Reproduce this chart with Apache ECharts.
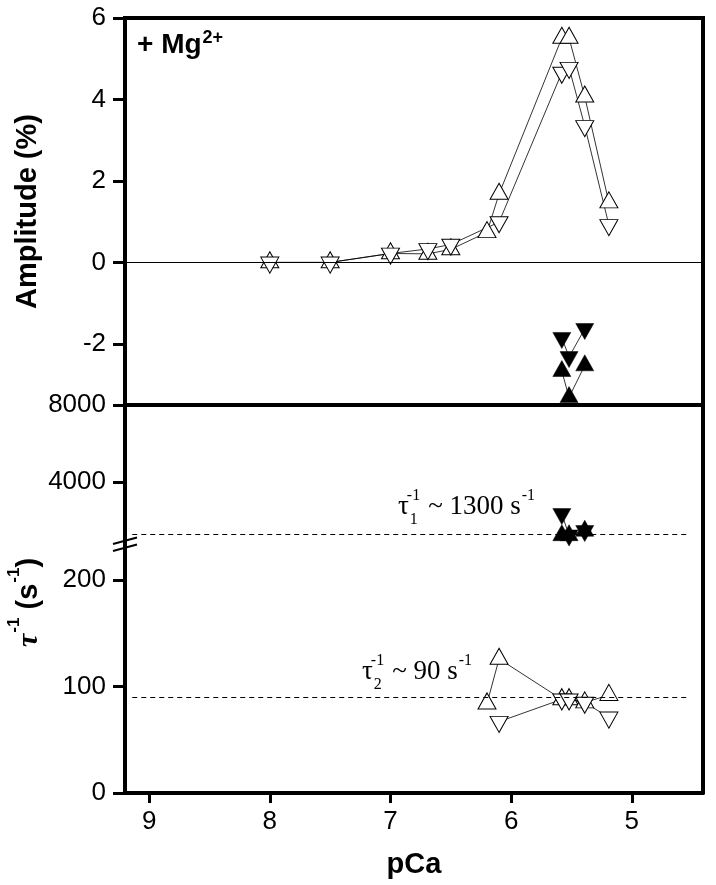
<!DOCTYPE html>
<html><head><meta charset="utf-8">
<script src="https://cdn.jsdelivr.net/npm/echarts@6/dist/echarts.min.js"></script>
<style>html,body{margin:0;padding:0;background:#fff}#c{width:716px;height:885px}</style>
</head><body><div id="c"></div>
<script>
// ---- data ----
const pCaUp = [8.0, 7.5, 7.0, 6.69, 6.5, 6.2, 6.1, 5.58, 5.52, 5.39, 5.19];
const ampUp = [0, 0, 0.22, 0.21, 0.32, 0.74, 1.68, 5.51, 5.51, 4.07, 1.47];
const pCaDown = [8.0, 7.5, 7.0, 6.69, 6.5, 6.1, 5.58, 5.52, 5.39, 5.19];
const ampDown = [0, 0, 0.22, 0.33, 0.44, 0.99, 4.66, 4.78, 3.35, 0.92];
const pCaFast = [5.58, 5.52, 5.39];
const ampFastUp = [-2.67, -3.31, -2.53];
const ampFastDown = [-1.85, -2.32, -1.63];
const rate1Up = [1250, 1250, 1480];
const rate1Down = [2360, 1250, 1480];
const pCaSlowUp = [6.2, 6.1, 5.58, 5.52, 5.39, 5.19];
const rate2Up = [84, 126, 88, 88, 85, 92];
const pCaSlowDown = [6.1, 5.58, 5.52, 5.39, 5.19];
const rate2Down = [67, 88, 88, 85, 71];
const tau1Level = 1300;
const tau2Level = 90;
const xTicks = [5, 6, 7, 8, 9];
const ampTicks = [-2, 0, 2, 4, 6];
const rate1Ticks = [4000, 8000];
const rate2Ticks = [0, 100, 200];

const zip = (xs, ys) => xs.map((x, i) => [x, ys[i]]);
const SYM = [18, 16];
const OFF = SYM[1] / 6;
const SANS = 'Liberation Sans';
const SERIF = 'Liberation Serif';

function series(data, up, filled, gi) {
  return {
    type: 'line', xAxisIndex: gi, yAxisIndex: gi, data: data,
    symbol: 'triangle', symbolSize: SYM,
    symbolRotate: up ? 0 : 180,
    symbolOffset: [0, up ? -OFF : OFF],
    showAllSymbol: true, animation: false, z: 3,
    lineStyle: { color: '#000', width: 0.8 },
    itemStyle: { color: filled ? '#000' : '#fff', borderColor: '#000', borderWidth: filled ? 0.5 : 1 }
  };
}

const s = [
  series(zip(pCaUp, ampUp), true, false, 0),
  series(zip(pCaDown, ampDown), false, false, 0),
  series(zip(pCaFast, ampFastUp), true, true, 0),
  series(zip(pCaFast, ampFastDown), false, true, 0),
  series(zip(pCaFast, rate1Up), true, true, 1),
  series(zip(pCaFast, rate1Down), false, true, 1),
  series(zip(pCaSlowUp, rate2Up), true, false, 2),
  series(zip(pCaSlowDown, rate2Down), false, false, 2)
];
s[0].markLine = { silent: true, symbol: 'none', label: { show: false }, animation: false,
  lineStyle: { color: '#000', width: 1, type: 'solid' }, data: [{ yAxis: 0 }] };
s[4].markLine = { silent: true, symbol: 'none', label: { show: false }, animation: false,
  lineStyle: { color: '#000', width: 1, type: [5, 4] },
  data: [[{ coord: [9.14, tau1Level] }, { coord: [4.52, tau1Level] }]] };
s[6].markLine = { silent: true, symbol: 'none', label: { show: false }, animation: false,
  lineStyle: { color: '#000', width: 1, type: [5, 4] },
  data: [[{ coord: [9.14, tau2Level] }, { coord: [4.52, tau2Level] }]] };

const XMIN = 4.41, XMAX = 9.2;
const plain = v => String(v);
function xAxis(gi, show) {
  return {
    gridIndex: gi, type: 'value', min: XMIN, max: XMAX, inverse: true, show: show,
    splitLine: { show: false },
    axisLine: { show: true, onZero: false, lineStyle: { color: '#000', width: 4 } },
    axisTick: { show: true, customValues: xTicks, length: 10, lineStyle: { color: '#000', width: 3 } },
    axisLabel: { customValues: xTicks, formatter: plain, color: '#000', fontSize: 26, fontFamily: SANS, margin: 16 },
    name: show ? 'pCa' : '', nameLocation: 'middle', nameGap: 57,
    nameTextStyle: { color: '#000', fontSize: 29, fontWeight: 'bold', fontFamily: SANS }
  };
}
function yAxis(gi, min, max, ticks, name) {
  return {
    gridIndex: gi, type: 'value', min: min, max: max,
    splitLine: { show: false },
    axisLine: { show: true, onZero: false, lineStyle: { color: '#000', width: 4 } },
    axisTick: { show: true, customValues: ticks, length: 12, lineStyle: { color: '#000', width: 3 } },
    axisLabel: { customValues: ticks, formatter: plain, color: '#000', fontSize: 26, fontFamily: SANS, margin: 19 },
    name: name || '', nameLocation: 'middle', nameGap: 83,
    nameTextStyle: { color: '#000', fontSize: 29, fontWeight: 'bold', fontFamily: SANS }
  };
}
function rightAxis(gi) {
  return {
    gridIndex: gi, type: 'value', position: 'right', min: 0, max: 1,
    splitLine: { show: false }, axisTick: { show: false }, axisLabel: { show: false },
    axisLine: { show: true, onZero: false, lineStyle: { color: '#000', width: 4 } }
  };
}

// text measurement for composed labels
const ctx = document.createElement('canvas').getContext('2d');
function tw(font, t) { ctx.font = font; return ctx.measureText(t).width; }
function txt(x, y, t, font) {
  return { type: 'text', x: x, y: y, silent: true,
    style: { text: t, font: font, fill: '#000', verticalAlign: 'middle', align: 'left' } };
}

// + Mg2+
const fMg = 'bold 28px "' + SANS + '"';
const fMgS = 'bold 18px "' + SANS + '"';
const mgW = tw(fMg, '+ Mg');
const mgEls = [txt(137, 45, '+ Mg', fMg), txt(137 + mgW + 1, 38, '2+', fMgS)];

// rotated tau axis label
const fT = 'italic bold 30px "' + SERIF + '"';
const fB = 'bold 29px "' + SANS + '"';
const fBS = 'bold 17px "' + SANS + '"';
let lx = 0;
const tauEls = [];
tauEls.push(txt(lx, -9, 'τ', fT)); lx += tw(fT, 'τ') + 1;
tauEls.push(txt(lx, -24, '-1', fBS)); lx += tw(fBS, '-1');
tauEls.push(txt(lx, -9, ' (s', fB)); lx += tw(fB, ' (s') + 1;
tauEls.push(txt(lx, -24, '-1', fBS)); lx += tw(fBS, '-1');
tauEls.push(txt(lx, -9, ')', fB));

// annotations tau1 / tau2
const fA = '27px "' + SERIF + '"';
const fAS = '16px "' + SERIF + '"';
function annot(x, base, sub, rest) {
  const els = [];
  els.push(txt(x, base - 8, 'τ', fA));
  const sx = x + tw(fA, 'τ') - 2;
  els.push(txt(sx, base - 19, '-1', fAS));
  els.push(txt(sx + 3, base + 5, sub, fAS));
  let nx = sx + tw(fAS, '-1') + 8;
  els.push(txt(nx, base - 8, rest, fA));
  nx += tw(fA, rest) + 1;
  els.push(txt(nx, base - 19, '-1', fAS));
  return els;
}

const chart = echarts.init(document.getElementById('c'), null, { renderer: 'canvas' });
chart.setOption({
  animation: false,
  backgroundColor: '#fff',
  grid: [
    { left: 125, right: 13, top: 18, height: 387, show: true, borderColor: '#000', borderWidth: 4 },
    { left: 125, right: 13, top: 405, height: 140 },
    { left: 125, right: 13, top: 545, height: 248 }
  ],
  xAxis: [xAxis(0, false), xAxis(1, false), xAxis(2, true)],
  yAxis: [
    yAxis(0, -3.5, 6, ampTicks, 'Amplitude (%)'),
    yAxis(1, 750, 8000, rate1Ticks),
    yAxis(2, 0, 233, rate2Ticks),
    rightAxis(1), rightAxis(2)
  ],
  series: s,
  graphic: [
    { type: 'group', silent: true, children: mgEls },
    { type: 'group', x: 38, y: 647, rotation: Math.PI / 2, silent: true, children: tauEls },
    { type: 'group', silent: true, children: annot(398, 515, '1', '~ 1300 s') },
    { type: 'group', silent: true, children: annot(362, 680, '2', '~ 90 s') },
    { type: 'line', silent: true, z: 10, shape: { x1: 113, y1: 544, x2: 137, y2: 537.5 }, style: { stroke: '#000', lineWidth: 2 } },
    { type: 'line', silent: true, z: 10, shape: { x1: 113, y1: 551, x2: 137, y2: 544.5 }, style: { stroke: '#000', lineWidth: 2 } }
  ]
});
</script></body></html>
